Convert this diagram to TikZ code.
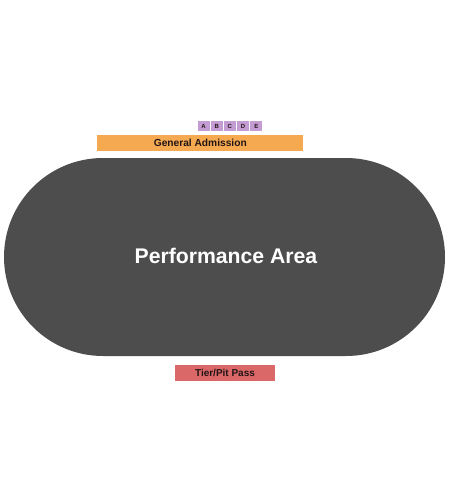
\documentclass[tikz,border=0pt]{standalone}
\usepackage{fontspec}
\setmainfont{Liberation Sans}
\definecolor{stage}{RGB}{77,77,77}
\definecolor{gaorange}{RGB}{245,170,82}
\definecolor{tierred}{RGB}{218,104,104}
\definecolor{secpurple}{RGB}{196,156,212}
\definecolor{txt}{RGB}{34,20,20}
\begin{document}
\begin{tikzpicture}[x=1pt,y=-1pt,
  secbox/.style={fill=secpurple,draw=none,minimum width=12pt,minimum height=10pt,inner sep=0pt,font=\bfseries\fontsize{6}{7}\selectfont,text=txt},
  bar/.style={draw=none,inner sep=0pt,font=\bfseries\fontsize{10.2}{12}\selectfont,text=txt}]
\useasboundingbox (0,0) rectangle (450,500);
% performance area (stadium)
\fill[stage,rounded corners=99pt] (4,158) rectangle (445,356);
\node[text=white,font=\bfseries\fontsize{21.2}{24}\selectfont] (perf) at (226,256) {Performance Area};
% sections A-E
\node[secbox] (A) at (203.5,126) {A};
\node[secbox] (B) at (216.7,126) {B};
\node[secbox] (C) at (229.9,126) {C};
\node[secbox] (D) at (243.1,126) {D};
\node[secbox] (E) at (256.3,126) {E};
% general admission
\node[bar,fill=gaorange,minimum width=206pt,minimum height=16pt] (ga) at (200.3,143) {General Admission};
% tier/pit pass
\node[bar,fill=tierred,minimum width=100pt,minimum height=16pt,font=\bfseries\fontsize{10}{12}\selectfont] (tier) at (225,372.7) {Tier/Pit Pass};
\end{tikzpicture}
\end{document}
